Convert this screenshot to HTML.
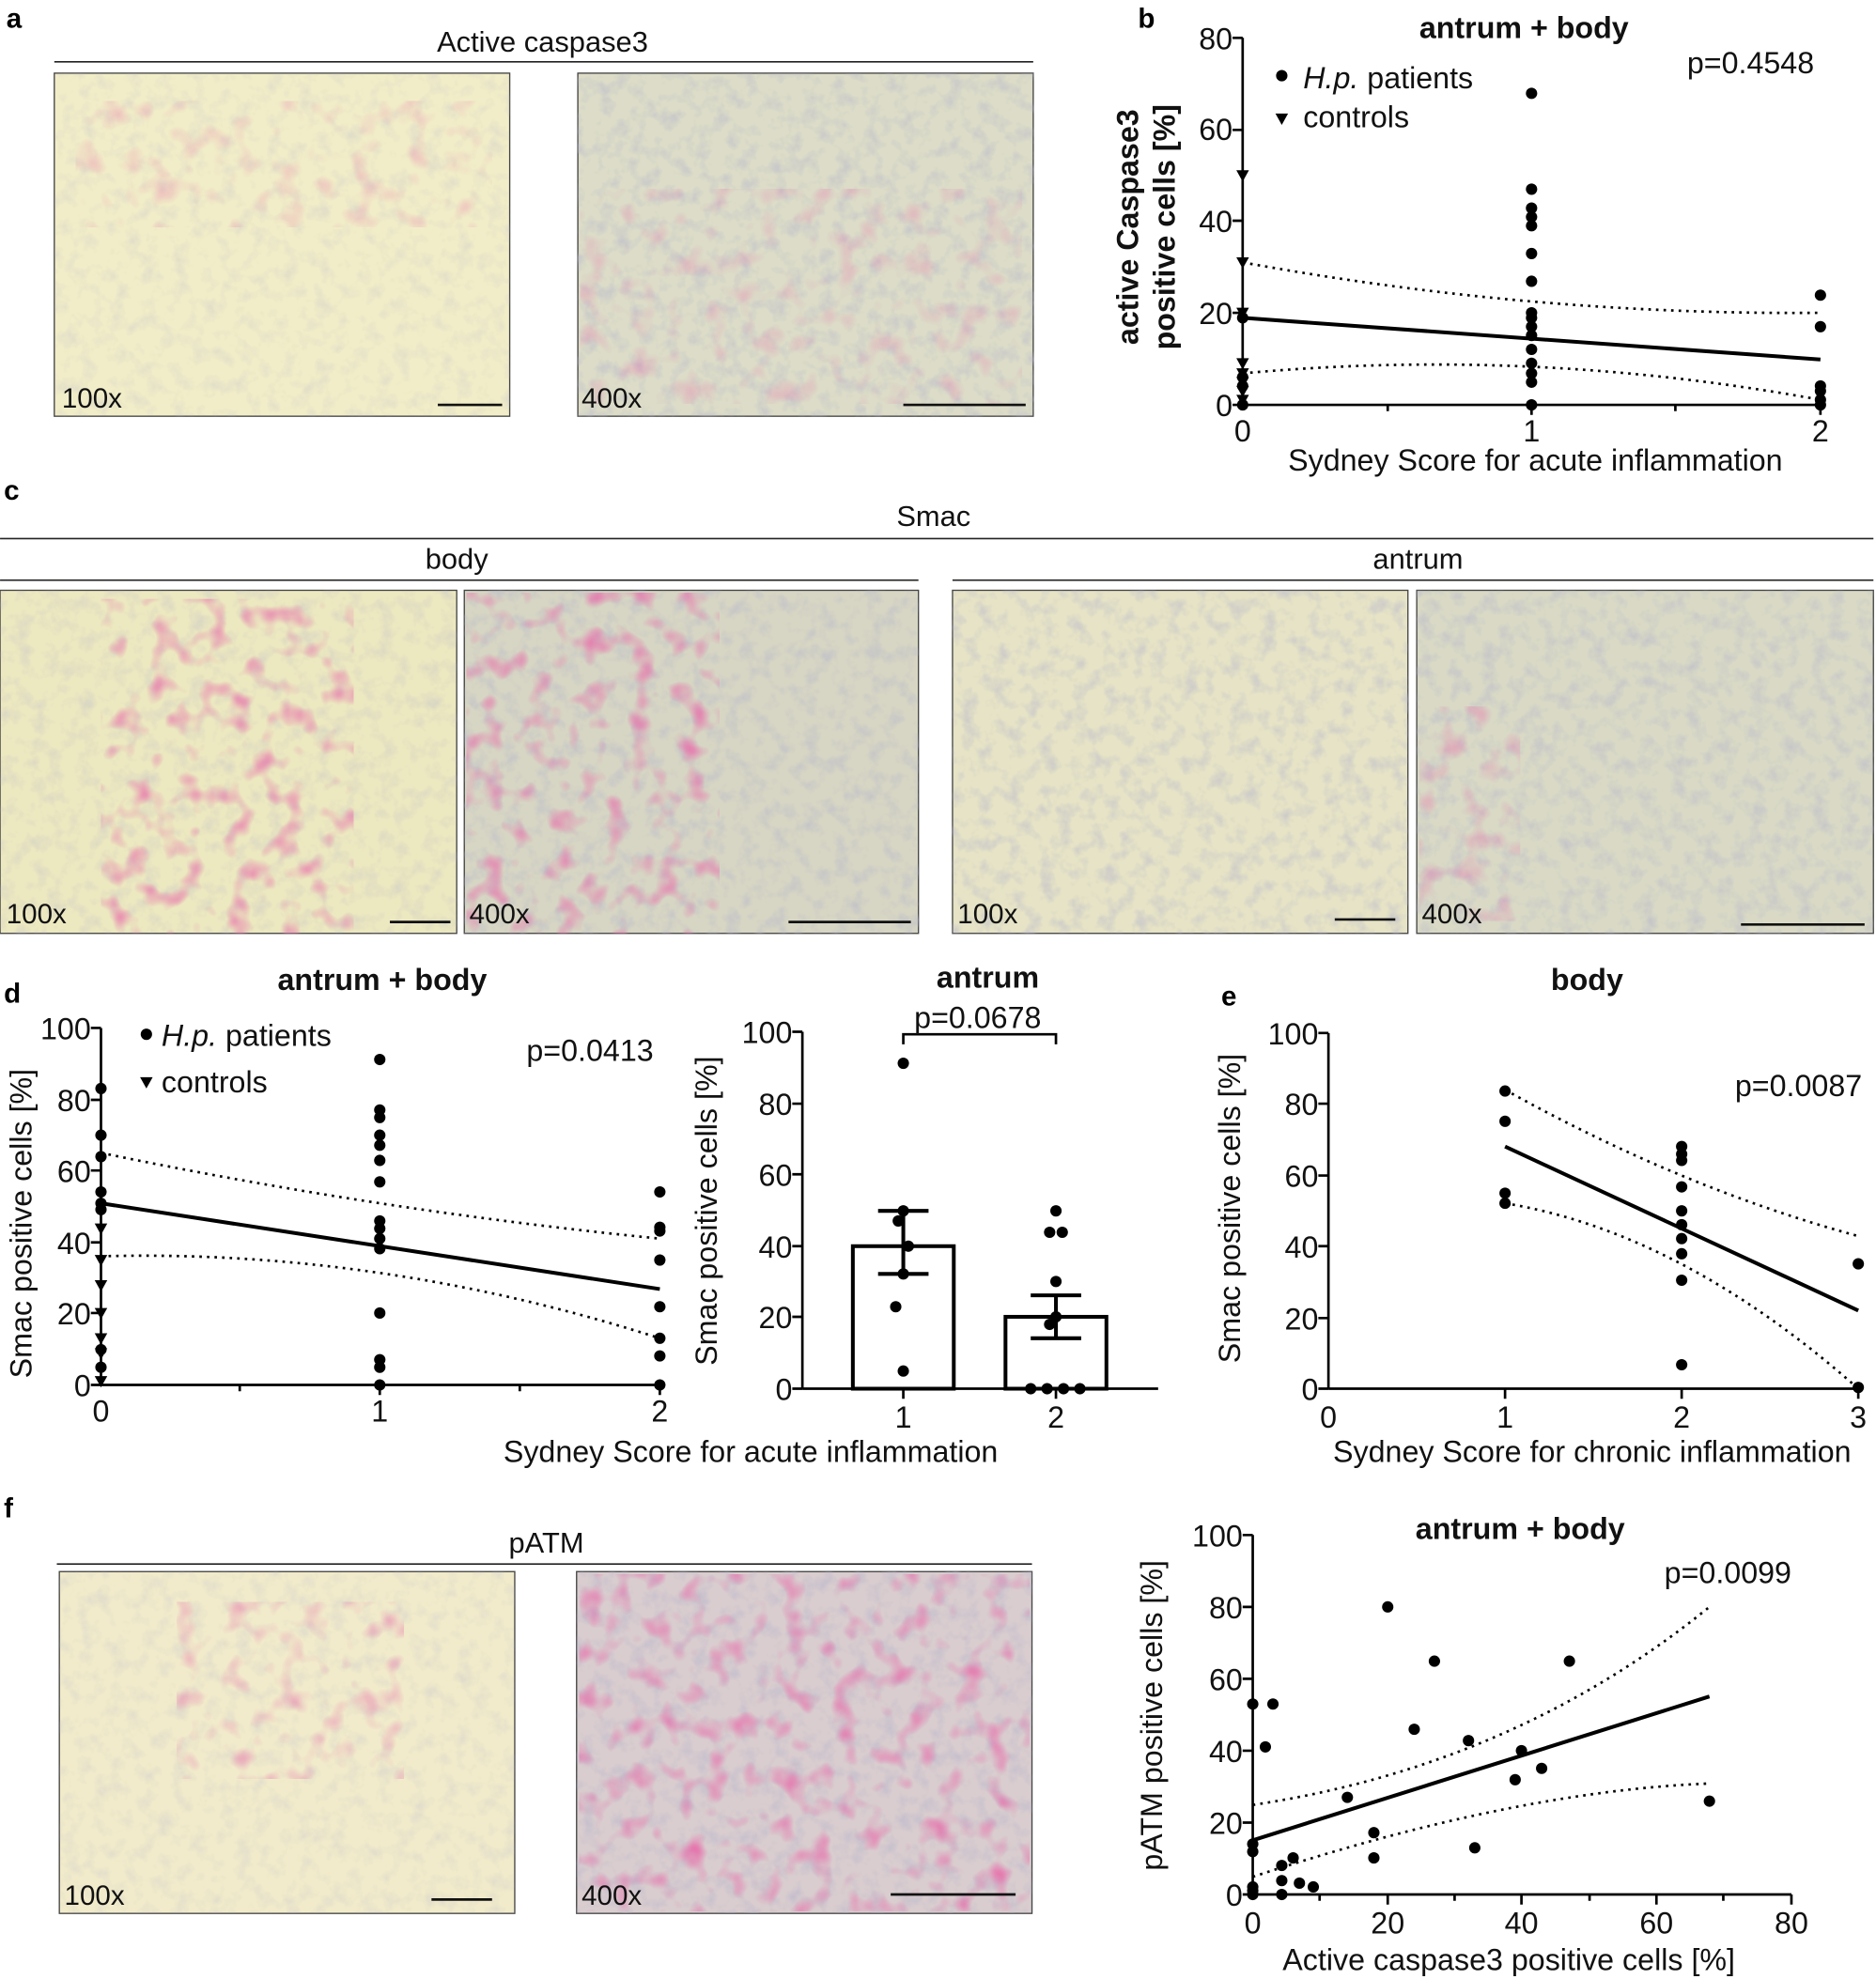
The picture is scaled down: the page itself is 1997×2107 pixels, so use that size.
<!DOCTYPE html>
<html><head><meta charset="utf-8"><style>html,body{margin:0;padding:0;background:#fff}svg{display:block}text{font-family:"Liberation Sans",Arial,sans-serif}</style></head><body>
<svg width="1997" height="2107" viewBox="0 0 1487 1569" xmlns="http://www.w3.org/2000/svg">
<defs>
<filter id="tex" x="0" y="0" width="100%" height="100%"><feTurbulence type="fractalNoise" baseFrequency="0.08" numOctaves="3" seed="3"/><feColorMatrix values="0 0 0 0 0.45  0 0 0 0 0.45  0 0 0 0 0.6  0 0 0 1.6 -0.75"/></filter>
<filter id="pink" x="0" y="0" width="100%" height="100%"><feTurbulence type="fractalNoise" baseFrequency="0.05" numOctaves="2" seed="7"/><feColorMatrix values="0 0 0 0 0.8  0 0 0 0 0.15  0 0 0 0 0.4  0 0 0 2.2 -1.15"/></filter>
<g id="dot"><circle r="4.5" fill="#000"/></g>
<g id="tri"><path d="M-5,-4 L5,-4 L0,5 Z" fill="#000"/></g>
</defs>

<g font-size="22" font-weight="bold">
<text x="5" y="22">a</text><text x="902" y="22">b</text><text x="3" y="396">c</text>
<text x="3" y="795">d</text><text x="968" y="797">e</text><text x="3" y="1203">f</text></g>

<!-- images -->
<g stroke="#444" stroke-width="1">
<rect x="43" y="58" width="361" height="272" fill="#f1edc8"/>
<rect x="458" y="58" width="361" height="272" fill="#dcdcc8"/>
<rect x="0" y="468" width="362" height="272" fill="#ece8c0"/>
<rect x="368" y="468" width="360" height="272" fill="#d7d6c4"/>
<rect x="755" y="468" width="361" height="272" fill="#e6e3c6"/>
<rect x="1123" y="468" width="362" height="272" fill="#d9d9c6"/>
<rect x="47" y="1246" width="361" height="271" fill="#f1ebcb"/>
<rect x="457" y="1246" width="361" height="271" fill="#d9cdcf"/>
</g>
<g opacity="0.7">
<rect x="43" y="58" width="361" height="272" filter="url(#tex)" opacity="0.5"/>
<rect x="458" y="58" width="361" height="272" filter="url(#tex)"/>
<rect x="0" y="468" width="362" height="272" filter="url(#tex)" opacity="0.6"/>
<rect x="368" y="468" width="360" height="272" filter="url(#tex)"/>
<rect x="755" y="468" width="361" height="272" filter="url(#tex)"/>
<rect x="1123" y="468" width="362" height="272" filter="url(#tex)"/>
<rect x="47" y="1246" width="361" height="271" filter="url(#tex)" opacity="0.5"/>
<rect x="457" y="1246" width="361" height="271" filter="url(#tex)"/>
</g>
<rect x="80" y="475" width="200" height="265" filter="url(#pink)"/>
<rect x="370" y="470" width="200" height="270" filter="url(#pink)"/>
<rect x="140" y="1270" width="180" height="140" filter="url(#pink)" opacity="0.6"/>
<rect x="459" y="1248" width="357" height="267" filter="url(#pink)"/>
<rect x="1125" y="560" width="80" height="170" filter="url(#pink)" opacity="0.5"/>
<rect x="60" y="80" width="330" height="100" filter="url(#pink)" opacity="0.4"/>
<rect x="460" y="150" width="350" height="170" filter="url(#pink)" opacity="0.4"/>
<g font-size="22" fill="#111">
<text x="49" y="323">100x</text><text x="461" y="323">400x</text>
<text x="5" y="732">100x</text><text x="372" y="732">400x</text>
<text x="759" y="732">100x</text><text x="1127" y="732">400x</text>
<text x="51" y="1510">100x</text><text x="461" y="1510">400x</text></g>
<g stroke="#111" stroke-width="2">
<line x1="347" y1="321" x2="398" y2="321"/><line x1="716" y1="321" x2="813" y2="321"/>
<line x1="309" y1="731" x2="357" y2="731"/><line x1="625" y1="731" x2="722" y2="731"/>
<line x1="1058" y1="729" x2="1106" y2="729"/><line x1="1380" y1="733" x2="1478" y2="733"/>
<line x1="342" y1="1506" x2="390" y2="1506"/><line x1="706" y1="1502" x2="805" y2="1502"/></g>

<g font-size="23" text-anchor="middle" fill="#111">
<text x="430" y="41">Active caspase3</text>
<text x="740" y="417">Smac</text><text x="362" y="451">body</text><text x="1124" y="451">antrum</text>
<text x="433" y="1231">pATM</text></g>
<g stroke="#222" stroke-width="1.2">
<line x1="43" y1="49" x2="819" y2="49"/><line x1="0" y1="427" x2="1485" y2="427"/>
<line x1="0" y1="460" x2="728" y2="460"/><line x1="755" y1="460" x2="1485" y2="460"/>
<line x1="45" y1="1240" x2="818" y2="1240"/></g>

<!-- panel b -->
<g stroke="#000" stroke-width="2" fill="none">
<line x1="985" y1="30" x2="985" y2="321"/><line x1="985" y1="321" x2="1443" y2="321"/>
<path d="M977,30h8M977,103h8M977,175h8M977,248h8M977,321h8M1214,321v8M1443,321v8M1100,321v5M1328,321v5"/>
<line x1="985" y1="252" x2="1443" y2="285" stroke-width="3"/>
<path d="M985,208 Q1214,250 1443,248" stroke-dasharray="2,4"/>
<path d="M985,296 Q1214,275 1443,317" stroke-dasharray="2,4"/>
</g>
<g font-size="24" fill="#111">
<text x="977" y="39" text-anchor="end">80</text><text x="977" y="111" text-anchor="end">60</text>
<text x="977" y="184" text-anchor="end">40</text><text x="977" y="257" text-anchor="end">20</text><text x="977" y="330" text-anchor="end">0</text>
<text x="985" y="350" text-anchor="middle">0</text><text x="1214" y="350" text-anchor="middle">1</text><text x="1443" y="350" text-anchor="middle">2</text>
<text x="1217" y="373" text-anchor="middle">Sydney Score for acute inflammation</text>
<text x="1208" y="30" text-anchor="middle" font-weight="bold">antrum + body</text>
<text x="1438" y="58" text-anchor="end">p=0.4548</text>
<text x="1033" y="70"><tspan font-style="italic">H.p.</tspan> patients</text><text x="1033" y="101">controls</text>
<text transform="translate(902,180) rotate(-90)" text-anchor="middle" font-weight="bold">active Caspase3</text>
<text transform="translate(931,180) rotate(-90)" text-anchor="middle" font-weight="bold">positive cells [%]</text>
</g>
<use href="#dot" x="1016" y="60"/><use href="#tri" x="1016" y="94"/>
<g id="bpts">
<use href="#dot" x="1214" y="74"/><use href="#dot" x="1214" y="150"/><use href="#dot" x="1214" y="165"/><use href="#dot" x="1214" y="172"/><use href="#dot" x="1214" y="179"/><use href="#dot" x="1214" y="201"/><use href="#dot" x="1214" y="223"/><use href="#dot" x="1214" y="248"/><use href="#dot" x="1214" y="252"/><use href="#dot" x="1214" y="259"/><use href="#dot" x="1214" y="266"/><use href="#dot" x="1214" y="277"/><use href="#dot" x="1214" y="288"/><use href="#dot" x="1214" y="296"/><use href="#dot" x="1214" y="303"/><use href="#dot" x="1214" y="321"/>
<use href="#dot" x="1443" y="234"/><use href="#dot" x="1443" y="259"/><use href="#dot" x="1443" y="306"/><use href="#dot" x="1443" y="310"/><use href="#dot" x="1443" y="317"/><use href="#dot" x="1443" y="321"/>
<use href="#tri" x="985" y="139"/><use href="#tri" x="985" y="208"/><use href="#tri" x="985" y="248"/><use href="#tri" x="985" y="288"/><use href="#tri" x="985" y="296"/><use href="#tri" x="985" y="303"/><use href="#tri" x="985" y="310"/><use href="#tri" x="985" y="317"/>
<use href="#dot" x="985" y="252"/><use href="#dot" x="985" y="299"/><use href="#dot" x="985" y="306"/><use href="#dot" x="985" y="321"/>
</g>

<!-- panel d left -->
<g stroke="#000" stroke-width="2" fill="none">
<line x1="80" y1="815" x2="80" y2="1098"/><line x1="80" y1="1098" x2="523" y2="1098"/>
<path d="M72,815h8M72,872h8M72,928h8M72,985h8M72,1041h8M72,1098h8M301,1098v8M523,1098v8M190,1098v5M412,1098v5"/>
<line x1="80" y1="954" x2="523" y2="1022" stroke-width="3"/>
<path d="M80,914 Q301,960 523,982" stroke-dasharray="2,4"/>
<path d="M80,996 Q301,990 523,1061" stroke-dasharray="2,4"/>
</g>
<g font-size="24" fill="#111">
<text x="72" y="824" text-anchor="end">100</text><text x="72" y="881" text-anchor="end">80</text><text x="72" y="937" text-anchor="end">60</text>
<text x="72" y="994" text-anchor="end">40</text><text x="72" y="1050" text-anchor="end">20</text><text x="72" y="1107" text-anchor="end">0</text>
<text x="80" y="1127" text-anchor="middle">0</text><text x="301" y="1127" text-anchor="middle">1</text><text x="523" y="1127" text-anchor="middle">2</text>
<text x="303" y="785" text-anchor="middle" font-weight="bold">antrum + body</text>
<text x="518" y="841" text-anchor="end">p=0.0413</text>
<text x="128" y="829"><tspan font-style="italic">H.p.</tspan> patients</text><text x="128" y="866">controls</text>
<text transform="translate(25,970) rotate(-90)" text-anchor="middle">Smac positive cells [%]</text>
<text x="595" y="1159" text-anchor="middle">Sydney Score for acute inflammation</text>
</g>
<use href="#dot" x="116" y="820"/><use href="#tri" x="116" y="858"/>
<g>
<use href="#dot" x="80" y="863"/><use href="#dot" x="80" y="900"/><use href="#dot" x="80" y="917"/><use href="#dot" x="80" y="945"/><use href="#dot" x="80" y="954"/><use href="#dot" x="80" y="959"/><use href="#dot" x="80" y="1070"/><use href="#dot" x="80" y="1084"/>
<use href="#tri" x="80" y="974"/><use href="#tri" x="80" y="999"/><use href="#tri" x="80" y="1019"/><use href="#tri" x="80" y="1041"/><use href="#tri" x="80" y="1061"/><use href="#tri" x="80" y="1073"/><use href="#tri" x="80" y="1095"/>
<use href="#dot" x="301" y="840"/><use href="#dot" x="301" y="880"/><use href="#dot" x="301" y="886"/><use href="#dot" x="301" y="900"/><use href="#dot" x="301" y="908"/><use href="#dot" x="301" y="920"/><use href="#dot" x="301" y="937"/><use href="#dot" x="301" y="968"/><use href="#dot" x="301" y="974"/><use href="#dot" x="301" y="982"/><use href="#dot" x="301" y="990"/><use href="#dot" x="301" y="1041"/><use href="#dot" x="301" y="1078"/><use href="#dot" x="301" y="1084"/><use href="#dot" x="301" y="1098"/>
<use href="#dot" x="523" y="945"/><use href="#dot" x="523" y="973"/><use href="#dot" x="523" y="976"/><use href="#dot" x="523" y="999"/><use href="#dot" x="523" y="1036"/><use href="#dot" x="523" y="1061"/><use href="#dot" x="523" y="1075"/><use href="#dot" x="523" y="1098"/>
</g>

<!-- bar chart -->
<g stroke="#000" stroke-width="2" fill="none">
<line x1="636" y1="818" x2="636" y2="1101"/><line x1="636" y1="1101" x2="918" y2="1101"/>
<path d="M628,818h8M628,875h8M628,931h8M628,988h8M628,1044h8M628,1101h8M716,1101v8M837,1101v8"/>
<rect x="676" y="988" width="80" height="113" stroke-width="3" fill="#fff"/>
<rect x="797" y="1044" width="80" height="57" stroke-width="3" fill="#fff"/>
<path d="M716,960v50M696,960h40M696,1010h40M837,1027v34M817,1027h40M817,1061h40" stroke-width="3"/>
<path d="M716,828v-8h121v8"/>
</g>
<g>
<use href="#dot" x="716" y="843"/><use href="#dot" x="716" y="960"/><use href="#dot" x="712" y="968"/><use href="#dot" x="720" y="988"/><use href="#dot" x="716" y="1010"/><use href="#dot" x="710" y="1036"/><use href="#dot" x="716" y="1087"/>
<use href="#dot" x="837" y="960"/><use href="#dot" x="832" y="977"/><use href="#dot" x="842" y="977"/><use href="#dot" x="837" y="1016"/><use href="#dot" x="837" y="1044"/><use href="#dot" x="832" y="1050"/>
<use href="#dot" x="817" y="1101"/><use href="#dot" x="830" y="1101"/><use href="#dot" x="843" y="1101"/><use href="#dot" x="856" y="1101"/>
</g>
<g font-size="24" fill="#111">
<text x="628" y="827" text-anchor="end">100</text><text x="628" y="884" text-anchor="end">80</text><text x="628" y="940" text-anchor="end">60</text>
<text x="628" y="997" text-anchor="end">40</text><text x="628" y="1053" text-anchor="end">20</text><text x="628" y="1110" text-anchor="end">0</text>
<text x="716" y="1132" text-anchor="middle">1</text><text x="837" y="1132" text-anchor="middle">2</text>
<text x="783" y="783" text-anchor="middle" font-weight="bold">antrum</text>
<text x="775" y="815" text-anchor="middle">p=0.0678</text>
<text transform="translate(568,960) rotate(-90)" text-anchor="middle">Smac positive cells [%]</text>
</g>

<!-- panel e -->
<g stroke="#000" stroke-width="2" fill="none">
<line x1="1053" y1="819" x2="1053" y2="1101"/><line x1="1053" y1="1101" x2="1473" y2="1101"/>
<path d="M1045,819h8M1045,875h8M1045,932h8M1045,988h8M1045,1045h8M1045,1101h8M1193,1101v8M1333,1101v8M1473,1101v8"/>
<line x1="1193" y1="909" x2="1473" y2="1039" stroke-width="3"/>
<path d="M1193,864 Q1333,942 1473,980" stroke-dasharray="2,4"/>
<path d="M1193,954 Q1333,977 1473,1101" stroke-dasharray="2,4"/>
</g>
<g>
<use href="#dot" x="1193" y="865"/><use href="#dot" x="1193" y="889"/><use href="#dot" x="1193" y="946"/><use href="#dot" x="1193" y="954"/>
<use href="#dot" x="1333" y="909"/><use href="#dot" x="1333" y="915"/><use href="#dot" x="1333" y="920"/><use href="#dot" x="1333" y="941"/><use href="#dot" x="1333" y="960"/><use href="#dot" x="1333" y="971"/><use href="#dot" x="1333" y="982"/><use href="#dot" x="1333" y="994"/><use href="#dot" x="1333" y="1015"/><use href="#dot" x="1333" y="1082"/>
<use href="#dot" x="1473" y="1002"/><use href="#dot" x="1473" y="1100"/>
</g>
<g font-size="24" fill="#111">
<text x="1045" y="828" text-anchor="end">100</text><text x="1045" y="884" text-anchor="end">80</text><text x="1045" y="941" text-anchor="end">60</text>
<text x="1045" y="997" text-anchor="end">40</text><text x="1045" y="1054" text-anchor="end">20</text><text x="1045" y="1110" text-anchor="end">0</text>
<text x="1053" y="1132" text-anchor="middle">0</text><text x="1193" y="1132" text-anchor="middle">1</text><text x="1333" y="1132" text-anchor="middle">2</text><text x="1473" y="1132" text-anchor="middle">3</text>
<text x="1258" y="785" text-anchor="middle" font-weight="bold">body</text>
<text x="1476" y="869" text-anchor="end">p=0.0087</text>
<text transform="translate(983,958) rotate(-90)" text-anchor="middle">Smac positive cells [%]</text>
<text x="1262" y="1159" text-anchor="middle">Sydney Score for chronic inflammation</text>
</g>

<!-- panel f scatter -->
<g stroke="#000" stroke-width="2" fill="none">
<line x1="993" y1="1217" x2="993" y2="1502"/><line x1="993" y1="1502" x2="1420" y2="1502"/>
<path d="M985,1217h8M985,1274h8M985,1331h8M985,1388h8M985,1445h8M985,1502h8M1100,1502v8M1206,1502v8M1313,1502v8M1420,1502v8M1046,1502v5M1153,1502v5M1260,1502v5M1366,1502v5"/>
<line x1="993" y1="1459" x2="1355" y2="1345" stroke-width="3"/>
<path d="M993,1431 Q1200,1400 1355,1274" stroke-dasharray="2,4"/>
<path d="M993,1488 Q1200,1420 1355,1414" stroke-dasharray="2,4"/>
</g>
<g>
<use href="#dot" x="993" y="1351"/><use href="#dot" x="993" y="1462"/><use href="#dot" x="993" y="1468"/><use href="#dot" x="993" y="1496"/><use href="#dot" x="993" y="1499"/><use href="#dot" x="993" y="1502"/>
<use href="#dot" x="1003" y="1385"/><use href="#dot" x="1009" y="1351"/><use href="#dot" x="1016" y="1479"/><use href="#dot" x="1016" y="1491"/><use href="#dot" x="1016" y="1502"/><use href="#dot" x="1025" y="1473"/><use href="#dot" x="1030" y="1493"/><use href="#dot" x="1041" y="1496"/>
<use href="#dot" x="1068" y="1425"/><use href="#dot" x="1089" y="1453"/><use href="#dot" x="1089" y="1473"/><use href="#dot" x="1100" y="1274"/><use href="#dot" x="1121" y="1371"/><use href="#dot" x="1137" y="1317"/><use href="#dot" x="1164" y="1380"/><use href="#dot" x="1169" y="1465"/><use href="#dot" x="1206" y="1388"/><use href="#dot" x="1201" y="1411"/><use href="#dot" x="1222" y="1402"/><use href="#dot" x="1244" y="1317"/><use href="#dot" x="1355" y="1428"/>
</g>
<g font-size="24" fill="#111">
<text x="985" y="1226" text-anchor="end">100</text><text x="985" y="1283" text-anchor="end">80</text><text x="985" y="1340" text-anchor="end">60</text>
<text x="985" y="1397" text-anchor="end">40</text><text x="985" y="1454" text-anchor="end">20</text><text x="985" y="1511" text-anchor="end">0</text>
<text x="993" y="1533" text-anchor="middle">0</text><text x="1100" y="1533" text-anchor="middle">20</text><text x="1206" y="1533" text-anchor="middle">40</text><text x="1313" y="1533" text-anchor="middle">60</text><text x="1420" y="1533" text-anchor="middle">80</text>
<text x="1205" y="1220" text-anchor="middle" font-weight="bold">antrum + body</text>
<text x="1420" y="1255" text-anchor="end">p=0.0099</text>
<text transform="translate(921,1360) rotate(-90)" text-anchor="middle">pATM positive cells [%]</text>
<text x="1196" y="1562" text-anchor="middle">Active caspase3 positive cells [%]</text>
</g>
</svg>
</body></html>
